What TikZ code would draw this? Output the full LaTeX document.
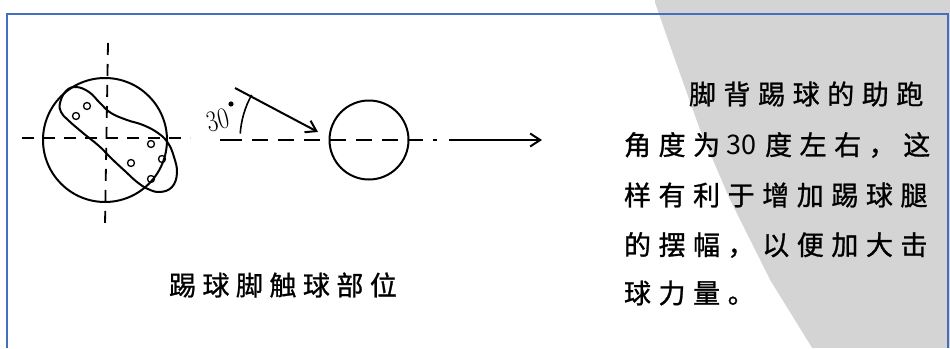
\documentclass[tikz,border=0pt]{standalone}
\usepackage{fontspec}
\usepackage{tikz}
\usetikzlibrary{arrows.meta, positioning, calc}
\newfontfamily\cjk[LetterSpace=28, FakeBold=1]{Noto Sans CJK SC}
\newfontfamily\cjkplain{Noto Sans CJK SC}
\newfontfamily\cjkcap[LetterSpace=24, FakeBold=1]{Noto Sans CJK SC}
\definecolor{framecol}{RGB}{70,110,190}
\definecolor{sealgray}{RGB}{212,212,212}

\begin{document}
\begin{tikzpicture}[
x=1pt, y=-1pt,
line width=2pt,
every node/.style={inner sep=0pt},
ballnode/.style={circle, draw, minimum size=79pt},
targetnode/.style={circle, draw, minimum size=124pt},
stud/.style={circle, draw, line width=1.3pt, minimum size=7pt},
axis/.style={dash pattern=on 12pt off 9pt, line width=1.8pt},
textline/.style={anchor=west, font=\cjk\fontsize{27}{27}\selectfont},
arrow/.style={-{Straight Barb[length=10pt, width=13pt]}}
]
\useasboundingbox (0,0) rectangle (950,348);

% seal in the background: grey block, white cut on its left side
\fill[sealgray] (655,0) rectangle (950,348);
\fill[white] (654,0) -- (675,60) -- (700,130) -- (730,200) -- (770,280)
  -- (812,348) -- (654,348) -- cycle;

% frame
\draw[framecol, line width=1.5pt] (7,348) -- (7,14) -- (948,14) -- (948,348);

% contact zone on the foot
\node[targetnode] (target) at (105,140) {};
\draw[axis] (108,43) -- (105,225);
\draw[axis] (22,138) -- (190,138);
\draw plot[smooth cycle, tension=0.7] coordinates {
  (60,103) (66,91) (76,87) (89,92) (100,103) (111,113) (127,120)
  (143,125) (158,133) (168,143) (174,157) (177,173) (172,187)
  (160,192) (148,189) (137,182) (126,172) (112,159) (99,146)
  (83,133) (68,120) (61,112)};
\foreach \sx/\sy in {87/106, 76/116, 151/144, 162/159, 131/163, 151/179}
  \node[stud] at (\sx,\sy) {};
\node[anchor=west, font=\cjkcap\fontsize{27}{27}\selectfont] (caption) at (168,285) {踢球脚触球部位};

% run-up direction and ball
\node[ballnode] (ball) at (369,140) {};
\coordinate (runup) at (235,88);
\coordinate (hit) at (318,132);
\coordinate (base) at (220,140);
\coordinate (vertex) at (333,140);
\coordinate (out) at (542,140);
\draw[arrow] (runup) -- (hit);
\draw (base) -- (242,140);
\draw[dash pattern=on 16pt off 10pt] (252,140) -- (ball.east);
\draw (ball.east) -- ++(13,0) ++(10,0) -- ++(4,0);
\draw[arrow] ($(ball.east)+(39,0)$) -- (out);
\draw[line width=1.6pt] ($(vertex)+(184:93)$) arc[start angle=184, end angle=209, radius=93];
% angle mark, degree sign as a dot
\node[rotate=14, xscale=0.8, font=\fontsize{30}{30}\selectfont] (angle) at (218,120) {30};
\fill (231,104) circle[radius=2.6];

% explanation
\node[textline] (l1) at (688,94) {脚背踢球的助跑};
\node[textline] (l2) at (623,145) {角度为\hspace{6pt}{\cjkplain 30\hspace{9pt}}度左右，这};
\node[textline] (l3) at (623,195) {样有利于增加踢球腿};
\node[textline] (l4) at (623,245) {的摆幅，以便加大击};
\node[textline] (l5) at (623,293) {球力量。};
\end{tikzpicture}
\end{document}
